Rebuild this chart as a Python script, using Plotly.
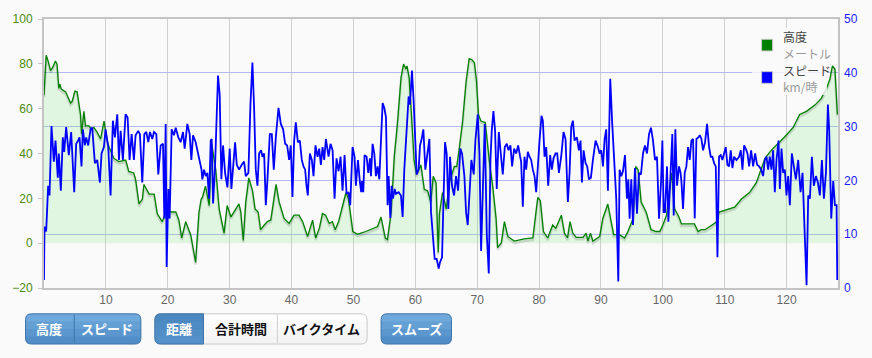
import plotly.graph_objects as go
import numpy as np

# ---------------- data ----------------
alt_km = [0.0, 0.35, 0.66, 1.05, 1.4, 1.85, 2.1, 2.4, 2.55, 2.8, 3.5, 4.3, 4.55, 5.0, 5.35, 5.9, 6.07, 6.45, 6.7, 7.25,
          7.7, 8.05, 8.6, 9.15, 9.7, 10.2, 10.6, 11.3, 12.1, 13.2, 13.7, 14.5, 14.8, 15.35, 15.9, 16.15, 17.0, 17.8, 18.3, 19.1,
          19.7, 19.9, 20.5, 21.3, 21.8, 22.25, 22.9, 23.7, 24.5, 25.05, 25.4, 25.6, 26.1, 26.7, 27.1, 27.75, 28.3, 29.1, 29.6, 30.2,
          31.0, 31.5, 31.8, 32.2, 32.6, 33.1, 33.7, 34.1, 34.6, 35.0, 35.6, 36.1, 36.65, 37.0, 37.5, 38.0, 38.8, 39.6, 40.4, 41.2,
          41.8, 42.6, 43.4, 43.9, 44.5, 45.0, 45.5, 46.1, 46.6, 47.05, 47.6, 48.0, 48.8, 49.2, 49.9, 50.7, 51.3, 52.0, 53.9, 54.45,
          55.15, 55.5, 56.1, 56.6, 57.1, 57.7, 58.1, 58.5, 58.65, 59.0, 59.5, 59.8, 60.2, 60.9, 61.45, 62.0, 62.5, 62.9, 63.35, 63.7,
          63.9, 64.4, 65.0, 65.5, 66.3, 66.7, 67.1, 67.65, 68.2, 68.7, 69.2, 69.55, 69.9, 70.2, 70.6, 71.3, 72.0, 72.5, 73.05, 73.3,
          73.9, 74.4, 74.95, 76.0, 77.6, 79.0, 79.5, 79.8, 80.2, 80.7, 81.4, 82.2, 82.7, 83.6, 84.1, 84.6, 85.0, 85.45, 86.0, 87.1,
          87.6, 87.9, 88.3, 88.7, 89.8, 90.3, 91.1, 91.6, 92.05, 93.0, 93.8, 94.35, 95.2, 95.6, 96.0, 96.5, 97.3, 98.1, 98.9, 99.5,
          100.0, 100.6, 101.4, 101.9, 102.6, 103.0, 105.1, 105.7, 106.2, 106.8, 108.6, 109.1, 110.0, 111.6, 112.7, 114.0, 115.1, 116.5, 117.5, 118.9,
          119.7, 121.05, 122.1, 123.2, 124.6, 125.6, 126.45, 127.0, 127.4, 127.8, 128.2]
alt_m = [66, 83.8, 81.3, 77, 78.4, 81.3, 79.9, 69, 71, 68.7, 67.5, 62.5, 63.2, 67.8, 67.5, 57.4, 48.7, 58.8, 52.3, 52.3,
         50.9, 51.6, 49.4, 46.5, 54.5, 45.8, 42.2, 37.8, 36.4, 37.1, 32, 31.3, 28.4, 17.5, 19.7, 26.2, 21.9, 21.9, 13.2, 9.6,
         13.9, 15.3, 13.9, 13.9, 10.3, 2.3, 9.6, 3.8, -8.6, 13.9, 19.7, 20.4, 25.5, 16.8, 44.3, 32.7, 15.3, 4.5, 16.8, 11.7,
         15.3, 17.5, 13.9, 1.2, 18.3, 29.1, 23.3, 15.3, 13.9, 6.0, 8.1, 9.6, 10.3, 16.8, 26.2, 18.3, 11.0, 8.8, 12.5, 12.5,
         9.6, 3.0, 10.3, 2.3, 6.7, 13.2, 12.5, 8.8, 9.6, 6.0, 9.6, 13.9, 22.6, 19.7, 5.2, 4.0, 4.5, 5.2, 7.4, 11.7,
         2.3, 1.6, 13.9, 38.6, 53.0, 74.0, 79.9, 77.7, 79.1, 74.0, 51.6, 37.1, 30.6, 34.9, 24.0, 23.3, 18.3, 29.9, 27.0, -4.2,
         13.2, 22.6, 15.3, 27.0, 34.2, 34.2, 42.2, 54.5, 71.9, 82.3, 81.7, 80.5, 71.9, 57.4, 54.5, 53.8, 35.7, 25.5, 11.0, -2.0,
         0.1, 9.6, 3.0, 0.9, 1.9, 2.3, 13.9, 20.4, 19.0, 5.2, 2.3, 8.1, 6.7, 12.5, 4.5, 2.3, 9.6, 4.5, 2.6, 2.6,
         4.5, 0.9, 4.5, 0.9, 3.0, 11.0, 17.5, 10.3, 3.8, 3.8, 2.3, 5.2, 11.0, 34.2, 32.7, 18.3, 13.9, 6.0, 5.2, 5.2,
         8.1, 12.5, 31.3, 15.3, 11.7, 8.6, 8.6, 5.2, 6.0, 6.0, 9.3, 13.9, 14.6, 16.1, 19.7, 22.6, 27.0, 37.8, 41.4, 45.1,
         47.5, 51.6, 57.4, 58.8, 61.7, 64.6, 69.0, 73.3, 79.1, 77.7, 57.4]

spd_km = [0.0, 0.08, 0.35, 0.67, 0.89, 1.21, 1.59, 1.86, 2.23, 2.40, 2.72, 3.04, 3.26, 3.58, 4.01, 4.39, 4.88, 5.20, 5.52, 5.74,
          6.06, 6.28, 6.60, 6.82, 7.14, 7.52, 7.79, 8.22, 8.60, 9.03, 9.30, 9.68, 9.95, 10.38, 10.76, 11.13, 11.46, 11.84, 12.11, 12.38,
          12.75, 13.18, 13.51, 13.83, 14.16, 14.53, 14.80, 15.23, 15.50, 15.88, 16.21, 16.53, 16.85, 17.12, 17.5, 17.77, 18.15, 18.47, 18.85, 19.23,
          19.44, 19.66, 19.82, 20.09, 20.30, 20.63, 21.0, 21.28, 21.71, 22.08, 22.46, 22.73, 23.16, 23.54, 23.81, 24.08, 24.51, 24.94, 25.2, 25.45,
          25.59, 25.86, 26.13, 26.4, 26.67, 26.94, 27.1, 27.32, 27.64, 27.85, 28.12, 28.39, 28.66, 28.93, 29.26, 29.64, 30.01, 30.28, 30.55, 30.88,
          31.15, 31.52, 31.95, 32.33, 32.6, 33.03, 33.36, 33.68, 33.95, 34.22, 34.49, 34.76, 35.08, 35.3, 35.57, 35.84, 36.11, 36.49, 36.81, 37.13,
          37.46, 37.89, 38.27, 38.64, 38.97, 39.29, 39.61, 39.88, 40.15, 40.42, 40.69, 41.02, 41.34, 41.66, 41.93, 42.2, 42.42, 42.63, 42.96, 43.28,
          43.55, 43.87, 44.2, 44.47, 44.74, 45.01, 45.28, 45.55, 45.98, 46.3, 46.63, 46.95, 47.27, 47.6, 47.92, 48.24, 48.57, 48.89, 49.21, 49.48,
          49.86, 50.18, 50.4, 50.73, 51.05, 51.26, 51.37, 51.59, 51.8, 52.13, 52.4, 52.67, 52.83, 53.1, 53.37, 53.64, 53.91, 54.18, 54.45, 54.72,
          54.99, 55.26, 55.52, 55.69, 55.96, 56.17, 56.39, 56.66, 56.87, 57.3, 57.68, 57.95, 58.22, 58.6, 58.92, 59.14, 59.46, 59.73, 60.0, 60.22,
          60.54, 60.76, 60.97, 61.3, 61.62, 61.94, 62.27, 62.54, 62.81, 63.13, 63.45, 63.78, 63.99, 64.32, 64.53, 64.8, 65.07, 65.34, 65.61, 65.93,
          66.26, 66.58, 66.91, 67.28, 67.55, 67.93, 68.2, 68.47, 68.74, 69.06, 69.44, 69.71, 70.09, 70.36, 70.63, 70.9, 71.22, 71.55, 71.87, 72.14,
          72.35, 72.62, 72.89, 73.16, 73.49, 73.81, 74.13, 74.46, 74.78, 75.05, 75.37, 75.64, 75.97, 76.29, 76.62, 76.94, 77.1, 77.37, 77.64, 77.91,
          78.18, 78.45, 78.72, 78.99, 79.26, 79.53, 79.8, 80.07, 80.39, 80.61, 80.88, 81.15, 81.47, 81.79, 82.06, 82.33, 82.66, 82.93, 83.2, 83.57,
          83.95, 84.27, 84.65, 84.92, 85.19, 85.46, 85.73, 86.11, 86.43, 86.7, 86.92, 87.19, 87.51, 87.78, 88.05, 88.37, 88.7, 89.13, 89.51, 89.78,
          90.05, 90.32, 90.59, 90.85, 91.12, 91.5, 91.82, 92.1, 92.47, 92.8, 93.01, 93.28, 93.55, 93.88, 94.2, 94.42, 94.63, 94.9, 95.17, 95.49,
          95.82, 96.14, 96.46, 96.79, 97.11, 97.44, 97.76, 98.08, 98.41, 98.73, 99.05, 99.38, 99.7, 99.92, 100.13, 100.35, 100.67, 100.89, 101.21, 101.53,
          101.75, 102.02, 102.29, 102.61, 102.85, 102.99, 103.26, 103.53, 103.8, 104.07, 104.34, 104.61, 104.88, 105.15, 105.42, 105.74, 105.96, 106.23, 106.5, 106.82,
          107.14, 107.47, 107.74, 108.01, 108.28, 108.55, 108.82, 109.08, 109.35, 109.62, 109.89, 110.16, 110.43, 110.7, 110.97, 111.24, 111.51, 111.89, 112.32, 112.59,
          112.86, 113.13, 113.4, 113.67, 113.94, 114.26, 114.59, 114.91, 115.23, 115.56, 115.88, 116.2, 116.47, 116.74, 117.01, 117.28, 117.55, 117.82, 118.09, 118.36,
          118.69, 118.9, 119.17, 119.44, 119.71, 119.98, 120.25, 120.52, 120.84, 121.17, 121.49, 121.87, 122.25, 122.57, 122.89, 123.22, 123.49, 123.76, 124.08, 124.4,
          124.73, 125.05, 125.37, 125.7, 126.02, 126.35, 126.67, 126.88, 127.21, 127.53, 127.8, 128.07, 128.18]
spd_kmh = [1.5, 11.4, 10.5, 19.0, 17.2, 30.1, 23.5, 27.4, 20.5, 25.0, 18.1, 28.0, 25.3, 29.9, 24.7, 29.0, 17.8, 26.8, 27.4, 28.0,
           22.6, 29.5, 26.5, 28.0, 26.5, 29.5, 29.8, 23.2, 23.8, 19.6, 25.0, 26.2, 29.5, 26.2, 17.2, 31.1, 28.0, 32.3, 23.8, 29.2,
           23.8, 32.3, 31.7, 23.8, 28.6, 23.8, 28.4, 29.2, 28.6, 19.6, 28.6, 29.0, 27.1, 29.0, 27.7, 29.0, 28.6, 21.1, 26.5, 26.8,
           12.9, 30.5, 3.9, 18.4, 12.9, 29.5, 28.4, 29.8, 28.0, 27.1, 29.0, 25.9, 30.5, 28.6, 23.8, 28.4, 27.1, 24.7, 23.0, 22.0,
           20.2, 22.0, 20.8, 21.4, 16.6, 27.4, 27.7, 15.7, 22.6, 32.3, 39.5, 35.9, 20.2, 26.5, 21.4, 18.7, 25.9, 18.4, 22.3, 27.1,
           22.9, 22.0, 22.9, 23.5, 20.8, 21.4, 34.1, 41.9, 33.5, 22.0, 19.0, 25.0, 25.6, 24.4, 25.0, 15.4, 20.2, 28.6, 28.6, 22.0,
           28.0, 33.5, 30.5, 29.5, 26.8, 26.5, 23.8, 26.5, 16.9, 27.4, 30.8, 27.1, 27.4, 23.8, 22.6, 22.0, 19.0, 17.2, 25.0, 23.8,
           20.8, 26.5, 24.4, 25.9, 22.9, 26.2, 23.8, 27.7, 24.4, 26.8, 25.6, 16.6, 24.1, 21.7, 24.4, 18.1, 24.7, 17.5, 17.8, 15.4,
           26.2, 24.4, 19.0, 23.8, 19.6, 17.8, 19.9, 17.8, 24.7, 24.4, 21.4, 24.1, 20.8, 26.8, 25.0, 20.8, 22.6, 20.2, 27.4, 34.4,
           33.5, 31.7, 15.4, 20.8, 13.0, 19.0, 16.6, 18.4, 17.5, 17.8, 17.2, 13.2, 22.0, 28.6, 35.6, 34.1, 40.4, 34.7, 26.8, 21.1,
           22.0, 26.5, 27.4, 29.5, 22.0, 24.4, 27.7, 14.1, 9.3, 5.4, 5.4, 3.6, 4.8, 5.7, 15.4, 27.1, 25.0, 14.7, 24.4, 19.0,
           17.2, 20.8, 18.1, 25.9, 25.0, 20.8, 14.1, 11.7, 17.2, 23.8, 21.1, 27.4, 32.3, 25.0, 6.9, 17.2, 30.5, 9.9, 2.7, 23.8,
           29.2, 32.9, 29.2, 18.4, 29.0, 25.0, 21.1, 26.2, 26.8, 25.6, 26.5, 22.6, 25.9, 25.0, 26.5, 24.4, 23.5, 15.1, 24.4, 22.0,
           25.3, 24.4, 23.8, 22.0, 20.8, 17.8, 23.8, 27.4, 32.0, 31.1, 24.4, 26.2, 19.0, 24.7, 22.0, 24.1, 25.0, 25.0, 21.4, 24.4,
           29.0, 27.7, 16.0, 21.4, 29.9, 31.1, 27.4, 28.0, 25.6, 27.4, 19.6, 25.6, 23.2, 22.6, 20.2, 20.5, 23.8, 27.4, 26.2, 25.0,
           25.6, 22.6, 27.7, 29.5, 18.1, 38.9, 30.5, 23.2, 16.6, 1.2, 22.0, 20.8, 21.7, 24.7, 16.6, 20.2, 12.9, 20.2, 11.7, 22.3,
           13.8, 21.4, 21.1, 25.0, 26.5, 25.0, 28.6, 29.8, 27.4, 23.8, 24.4, 12.9, 19.6, 27.4, 14.1, 14.1, 22.6, 12.3, 22.0, 28.6,
           13.5, 29.5, 19.0, 22.6, 21.5, 19.9, 14.7, 21.4, 22.6, 26.2, 23.8, 27.4, 27.7, 12.9, 27.7, 28.0, 28.4, 27.7, 25.6, 27.1,
           30.5, 26.2, 24.4, 24.4, 23.2, 22.6, 5.7, 24.4, 24.7, 23.8, 25.0, 26.2, 22.9, 22.6, 25.6, 22.3, 24.4, 23.8, 24.4, 25.6,
           22.0, 26.5, 25.9, 25.0, 22.6, 25.6, 22.6, 25.0, 22.9, 22.6, 22.0, 20.8, 23.8, 24.4, 22.0, 24.4, 22.0, 25.6, 17.8, 23.8,
           27.4, 18.4, 25.9, 21.4, 22.0, 17.2, 20.8, 15.4, 25.0, 22.6, 20.2, 23.8, 17.8, 21.4, 11.1, 0.5, 17.2, 16.6, 24.4, 19.0,
           20.8, 19.6, 17.2, 23.8, 16.6, 21.4, 34.1, 29.2, 12.9, 19.9, 15.4, 15.4, 1.5]

x_tick_vals = [10, 20, 30, 40, 50, 60, 70, 80, 90, 100, 110, 120]
left_tick_vals = [-20, 0, 20, 40, 60, 80, 100]
right_tick_vals = [0, 10, 20, 30, 40, 50]
series_names = ["高度", "スピード"]
series_units = ["メートル", "km/時"]
series_colors = ["#008000", "#0000ff"]
btn_group1 = ["高度", "スピード"]
btn_group2 = ["距離", "合計時間", "バイクタイム"]
btn_group3 = ["スムーズ"]

# ---------------- geometry helpers ----------------
W, H = 872, 358
ML, MR, MT, MB = 43, 34, 12, 70
PW, PH = W - ML - MR, H - MT - MB


def pxx(x):
    return (x - ML) / PW


def pxy(y):
    return (H - MB - y) / PH


def rrect(x0, y0, x1, y1, r, c=(1, 1, 1, 1)):
    tl, tr, br, bl = [r * k for k in c]
    P = lambda x, y: f"{pxx(x):.5f},{pxy(y):.5f}"
    return (f"M {P(x0 + tl, y0)} L {P(x1 - tr, y0)} Q {P(x1, y0)} {P(x1, y0 + tr)} "
            f"L {P(x1, y1 - br)} Q {P(x1, y1)} {P(x1 - br, y1)} L {P(x0 + bl, y1)} "
            f"Q {P(x0, y1)} {P(x0, y1 - bl)} L {P(x0, y0 + tl)} Q {P(x0, y0)} {P(x0 + tl, y0)} Z")


def mix(c1, c2, t):
    a = [int(c1[i:i + 2], 16) for i in (1, 3, 5)]
    b = [int(c2[i:i + 2], 16) for i in (1, 3, 5)]
    return "#" + "".join(f"{round(a[k] + (b[k] - a[k]) * t):02x}" for k in range(3))


def grad_button(shapes, x0, y0, x1, y1, r, ctop, cbot, border, left_round=True, right_round=True, n=4):
    h = (y1 - y0) / n
    for k in range(n):
        ya, yb = y0 + k * h, y0 + (k + 1) * h + (0.6 if k < n - 1 else 0)
        lt = 1 if (k == 0 and left_round) else 0
        rt = 1 if (k == 0 and right_round) else 0
        rb = 1 if (k == n - 1 and right_round) else 0
        lb = 1 if (k == n - 1 and left_round) else 0
        shapes.append(dict(type="path", xref="paper", yref="paper", path=rrect(x0, ya, x1, yb, r, (lt, rt, rb, lb)),
                           fillcolor=mix(ctop, cbot, (k + 0.5) / n), line=dict(width=0), layer="above"))
    shapes.append(dict(type="path", xref="paper", yref="paper",
                       path=rrect(x0, y0, x1, y1, r, (1 if left_round else 0, 1 if right_round else 0,
                                                      1 if right_round else 0, 1 if left_round else 0)),
                       fillcolor="rgba(0,0,0,0)", line=dict(width=1, color=border), layer="above"))


alt_arr = np.array(alt_m, dtype=float)

fig = go.Figure()
fig.add_trace(go.Scatter(x=alt_km, y=np.maximum(alt_arr, 0), mode="lines", line=dict(width=0, color="rgba(0,0,0,0)"),
                         fill="tozeroy", fillcolor="rgba(120,230,120,0.20)", hoverinfo="skip", yaxis="y"))
fig.add_trace(go.Scatter(x=alt_km, y=alt_arr - 0.9, mode="lines", line=dict(width=2.5, color="rgba(0,0,0,0.13)"),
                         hoverinfo="skip", yaxis="y"))
fig.add_trace(go.Scatter(x=alt_km, y=alt_m, mode="lines", name=series_names[0],
                         line=dict(width=1.3, color=series_colors[0]), yaxis="y"))
fig.add_trace(go.Scatter(x=spd_km, y=spd_kmh, mode="lines", name=series_names[1],
                         line=dict(width=1.8, color=series_colors[1]), yaxis="y2"))

shapes = []
annotations = []

# legend
shapes.append(dict(type="rect", xref="paper", yref="paper", x0=pxx(752), x1=pxx(827), y0=pxy(90), y1=pxy(21),
                   fillcolor="rgba(250,250,250,0.82)", line=dict(width=0), layer="above"))
leg_rows = [(38.8, 30, 47), (72, 64.5, 81.5)]
for i, (cy, y1, y2) in enumerate(leg_rows):
    shapes.append(dict(type="rect", xref="paper", yref="paper", x0=pxx(761.5), x1=pxx(772.5), y0=pxy(cy + 6), y1=pxy(cy - 6),
                       fillcolor=series_colors[i], line=dict(width=1, color="#c8c8c8"), layer="above"))
    annotations.append(dict(xref="paper", yref="paper", x=pxx(781), y=pxy(y1), text=series_names[i], showarrow=False,
                            xanchor="left", yanchor="middle", font=dict(family="Noto Sans CJK JP", size=12, color="#444")))
    annotations.append(dict(xref="paper", yref="paper", x=pxx(781), y=pxy(y2), text=series_units[i], showarrow=False,
                            xanchor="left", yanchor="middle", font=dict(family="Noto Sans CJK JP", size=12, color="#9a9a9a")))

# buttons
BY0, BY1 = 314.5, 345.5
TOP, BOT, BRD = "#74ade0", "#4c8ac3", "#3f74a8"
ATOP, ABOT = "#4a86bf", "#5693cb"
# group 1
grad_button(shapes, 24.5, BY0, 140, BY1, 6, TOP, BOT, BRD)
shapes.append(dict(type="line", xref="paper", yref="paper", x0=pxx(73.3), x1=pxx(73.3), y0=pxy(BY0 + 1), y1=pxy(BY1 - 1),
                   line=dict(width=1, color="#3f74a8"), layer="above"))
g1_centers = [48.5, 106.5]
# group 2
grad_button(shapes, 154, BY0, 366.5, BY1, 6, "#ffffff", "#f2f2f2", "#c9c9c9")
grad_button(shapes, 154, BY0, 202.7, BY1, 6, ATOP, ABOT, BRD, right_round=False)
shapes.append(dict(type="line", xref="paper", yref="paper", x0=pxx(276.7), x1=pxx(276.7), y0=pxy(BY0 + 1), y1=pxy(BY1 - 1),
                   line=dict(width=1, color="#cfcfcf"), layer="above"))
g2_centers = [178.3, 240, 321]
# group 3
grad_button(shapes, 380.5, BY0, 451, BY1, 6, TOP, BOT, BRD)
g3_centers = [415.5]

BY = (BY0 + BY1) / 2
for lbl, cx in zip(btn_group1, g1_centers):
    annotations.append(dict(xref="paper", yref="paper", x=pxx(cx), y=pxy(BY), text=f"<b>{lbl}</b>", showarrow=False,
                            xanchor="center", yanchor="middle", font=dict(family="Noto Sans CJK JP", size=13, color="white")))
for i, (lbl, cx) in enumerate(zip(btn_group2, g2_centers)):
    annotations.append(dict(xref="paper", yref="paper", x=pxx(cx), y=pxy(BY), text=f"<b>{lbl}</b>", showarrow=False,
                            xanchor="center", yanchor="middle",
                            font=dict(family="Noto Sans CJK JP", size=13, color="white" if i == 0 else "#111")))
for lbl, cx in zip(btn_group3, g3_centers):
    annotations.append(dict(xref="paper", yref="paper", x=pxx(cx), y=pxy(BY), text=f"<b>{lbl}</b>", showarrow=False,
                            xanchor="center", yanchor="middle", font=dict(family="Noto Sans CJK JP", size=13, color="white")))

fig.update_layout(
    width=W, height=H, margin=dict(l=ML, r=MR, t=MT, b=MB, pad=0),
    paper_bgcolor="#fafafa", plot_bgcolor="#fafafa",
    showlegend=False,
    xaxis=dict(range=[0, 128.3], tickvals=x_tick_vals, showgrid=True, gridcolor="#d0d0d0", gridwidth=1,
               zeroline=False, showline=True, linecolor="#c4c4c4", linewidth=2, mirror=True, ticks="",
               tickfont=dict(family="Liberation Sans", size=12, color="#666")),
    yaxis=dict(range=[-20, 100], tickvals=left_tick_vals, showgrid=False, zeroline=False,
               showline=True, linecolor="#c4c4c4", linewidth=2, mirror=True,
               ticks="outside", ticklen=4, tickcolor="#c4c4c4", ticklabelstandoff=3,
               tickfont=dict(family="Liberation Sans", size=12, color="#4d8a10")),
    yaxis2=dict(range=[0, 50], tickvals=right_tick_vals, overlaying="y", side="right", showgrid=True,
                gridcolor="#b4b8f0", gridwidth=1, zeroline=False, showline=False, ticks="", ticklabelstandoff=5,
                tickfont=dict(family="Liberation Sans", size=12, color="#1a1aff")),
    shapes=shapes, annotations=annotations,
)

fig.write_html("out.html")
